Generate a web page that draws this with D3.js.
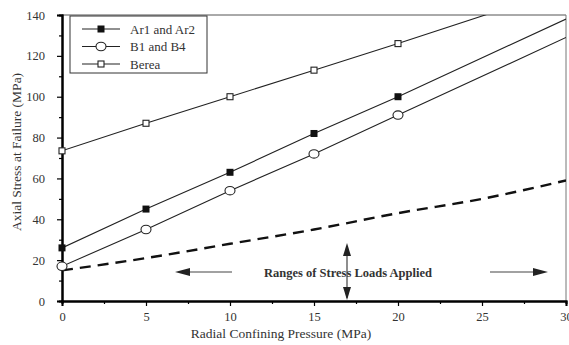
<!DOCTYPE html>
<html><head><meta charset="utf-8">
<script src="https://cdn.jsdelivr.net/npm/d3@7"></script>
<style>body{margin:0;background:#fff}svg{display:block}</style>
</head><body><svg id="c" width="569" height="345"></svg>
<script>
const xVals = [0, 5, 10, 15, 20, 30];
const arValues = [26, 45, 63, 82, 100, 138];
const bValues = [17, 35, 54, 72, 91, 129];
const bereaX = [0, 5, 10, 15, 20, 30];
const bereaValues = [73.5, 87, 100, 113, 126, 153];
const dashX = [0, 5, 10, 15, 20, 25, 30];
const dashValues = [15, 21, 28, 35, 43, 50, 59];
const markerCount = 5;
const xTicks = [0, 5, 10, 15, 20, 25, 30];
const yTicks = [0, 20, 40, 60, 80, 100, 120, 140];
const legendLabels = ["Ar1 and Ar2", "B1 and B4", "Berea"];

const svg = d3.select("#c");
const m = {l: 62, r: 3, t: 15, b: 44};
const W = 569, H = 345;
const x = d3.scaleLinear().domain([0, 30]).range([m.l, W - m.r]);
const y = d3.scaleLinear().domain([0, 140]).range([H - m.b, m.t]);
const font = "'Liberation Serif','Times New Roman',serif";

svg.append("defs").append("clipPath").attr("id", "clip")
  .append("rect").attr("x", m.l).attr("y", m.t).attr("width", W - m.r - m.l).attr("height", H - m.b - m.t);

// frame top/right
svg.append("line").attr("x1", m.l).attr("x2", W - m.r).attr("y1", m.t).attr("y2", m.t).attr("stroke", "#555").attr("stroke-width", 1);
svg.append("line").attr("x1", W - m.r).attr("x2", W - m.r).attr("y1", m.t).attr("y2", H - m.b).attr("stroke", "#777").attr("stroke-width", 1);

// axes
const xa = svg.append("g").attr("transform", `translate(0,${H - m.b})`)
  .call(d3.axisBottom(x).tickValues(xTicks).tickSize(5).tickFormat(d3.format("d")));
const xm = svg.append("g").attr("transform", `translate(0,${H - m.b})`)
  .call(d3.axisBottom(x).tickValues(d3.range(2.5, 30, 5)).tickSize(3).tickFormat(""));
const ya = svg.append("g").attr("transform", `translate(${m.l},0)`)
  .call(d3.axisLeft(y).tickValues(yTicks).tickSize(5));
const ym = svg.append("g").attr("transform", `translate(${m.l},0)`)
  .call(d3.axisLeft(y).tickValues(d3.range(10, 140, 20)).tickSize(3).tickFormat(""));
[xa, xm, ya, ym].forEach(g => {
  g.selectAll(".domain").attr("stroke", "#000").attr("stroke-width", 2);
  g.selectAll(".tick line").attr("stroke", "#000").attr("stroke-width", 1.2);
  g.selectAll("text").attr("font-family", font).attr("font-size", 12.5).attr("fill", "#333");
});
xa.selectAll("text").attr("dy", "0.95em");
ya.selectAll("text").attr("x", -17);

// axis titles
svg.append("text").attr("x", 281).attr("y", 338).attr("text-anchor", "middle")
  .attr("font-family", font).attr("font-size", 13.5).attr("fill", "#333").text("Radial Confining Pressure (MPa)");
svg.append("text").attr("transform", `translate(21,152) rotate(-90)`).attr("text-anchor", "middle")
  .attr("font-family", font).attr("font-size", 13.5).attr("fill", "#333").text("Axial Stress at Failure (MPa)");

const line = d3.line().x(d => x(d[0])).y(d => y(d[1]));
const plot = svg.append("g").attr("clip-path", "url(#clip)");
const series = [
  {xs: xVals, ys: arValues, type: "filled"},
  {xs: xVals, ys: bValues, type: "circle"},
  {xs: bereaX, ys: bereaValues, type: "square"}
];
series.forEach(s => {
  plot.append("path").datum(s.xs.map((v, i) => [v, s.ys[i]])).attr("d", line)
    .attr("fill", "none").attr("stroke", "#222").attr("stroke-width", 1.1);
});
plot.append("path").datum(dashX.map((v, i) => [v, dashValues[i]])).attr("d", line.curve(d3.curveMonotoneX))
  .attr("fill", "none").attr("stroke", "#111").attr("stroke-width", 2.4).attr("stroke-dasharray", "11,7");

function marker(g, type, cx, cy) {
  if (type === "filled") g.append("rect").attr("x", cx - 3.5).attr("y", cy - 3.5).attr("width", 7).attr("height", 7).attr("fill", "#111");
  else if (type === "circle") g.append("ellipse").attr("cx", cx).attr("cy", cy).attr("rx", 5).attr("ry", 4.2).attr("fill", "#fff").attr("stroke", "#222").attr("stroke-width", 1.1);
  else g.append("rect").attr("x", cx - 3).attr("y", cy - 3).attr("width", 6).attr("height", 6).attr("fill", "#fff").attr("stroke", "#222").attr("stroke-width", 1.1);
}
const mk = svg.append("g");
series.forEach(s => {
  for (let i = 0; i < markerCount; i++) marker(mk, s.type, x(s.xs[i]), y(s.ys[i]));
});

// legend
const lg = svg.append("g");
lg.append("rect").attr("x", 70).attr("y", 16).attr("width", 137).attr("height", 57)
  .attr("fill", "#fff").attr("stroke", "#333").attr("stroke-width", 1);
legendLabels.forEach((t, i) => {
  const cy = 29 + i * 17.5;
  lg.append("line").attr("x1", 82).attr("x2", 120).attr("y1", cy).attr("y2", cy).attr("stroke", "#222").attr("stroke-width", 1.1);
  marker(lg, series[i].type, 101, cy);
  lg.append("text").attr("x", 130).attr("y", cy + 4.5).attr("font-family", font).attr("font-size", 13).attr("fill", "#333").text(t);
});

// annotation
const ay = 272;
svg.append("text").attr("x", 348).attr("y", ay + 4.5).attr("text-anchor", "middle").attr("font-family", font)
  .attr("font-weight", "bold").attr("font-size", 12.5).attr("fill", "#333").text("Ranges of Stress Loads Applied");
const ar = svg.append("g").attr("fill", "#222").attr("stroke", "#444");
ar.append("line").attr("x1", 185).attr("x2", 232).attr("y1", ay).attr("y2", ay).attr("stroke-width", 1.2);
ar.append("path").attr("d", `M175,${ay} L190,${ay - 4} L190,${ay + 4} Z`).attr("stroke", "none");
ar.append("line").attr("x1", 490).attr("x2", 538).attr("y1", ay).attr("y2", ay).attr("stroke-width", 1.2);
ar.append("path").attr("d", `M548,${ay} L533,${ay - 4} L533,${ay + 4} Z`).attr("stroke", "none");
ar.append("line").attr("x1", 347).attr("x2", 347).attr("y1", 248).attr("y2", 298).attr("stroke-width", 1.2);
ar.append("path").attr("d", `M347,243 L343,256 L351,256 Z`).attr("stroke", "none");
ar.append("path").attr("d", `M347,300 L343,287 L351,287 Z`).attr("stroke", "none");
</script></body></html>
